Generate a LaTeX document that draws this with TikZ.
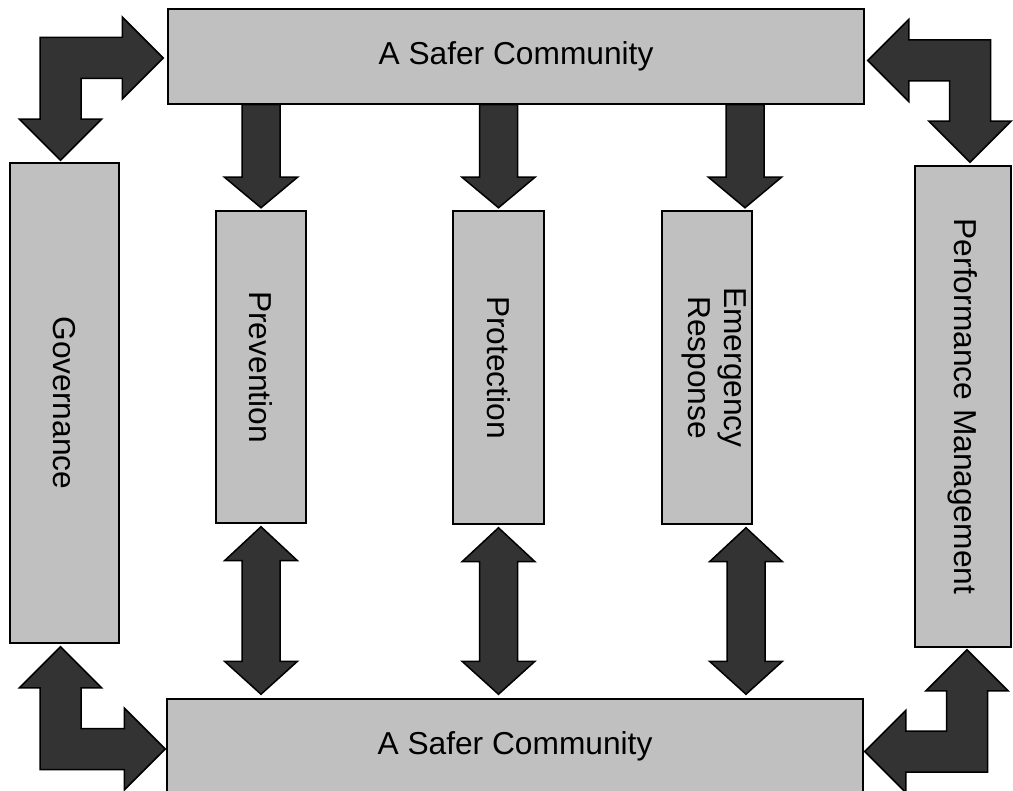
\documentclass[tikz,border=0pt]{standalone}
\usepackage{fontspec}
\setmainfont{Liberation Sans}
\usepackage{graphicx}
\usetikzlibrary{calc}
\definecolor{boxGrey}{HTML}{C0C0C0}
\definecolor{arrowDark}{HTML}{333333}
% straight arrow: from a box edge down to a box top
\newcommand{\downBlock}[2]{%
  \draw[blockArrow] let \p1=(#1), \p2=(#2) in
    (\x2-19pt,\y1) -- (\x2+19pt,\y1) -- (\x2+19pt,\y2+33pt)
    -- (\x2+36.5pt,\y2+33pt) -- (\x2,\y2+2.5pt) -- (\x2-36.5pt,\y2+33pt)
    -- (\x2-19pt,\y2+33pt) -- cycle;}
% two-headed arrow between two boxes
\newcommand{\bothBlock}[2]{%
  \draw[blockArrow] let \p1=(#1), \p2=(#2) in
    (\x1,\y1-3pt) -- (\x1+36.5pt,\y1-37pt) -- (\x1+19pt,\y1-37pt)
    -- (\x1+19pt,\y2+37pt) -- (\x1+36.5pt,\y2+37pt) -- (\x1,\y2+4pt)
    -- (\x1-36.5pt,\y2+37pt) -- (\x1-19pt,\y2+37pt) -- (\x1-19pt,\y1-37pt)
    -- (\x1-36.5pt,\y1-37pt) -- cycle;}
% bent arrow: #1 vertical tip, #2 horizontal tip, #3/#4 directions
\newcommand{\cornerBlock}[4]{%
  \draw[blockArrow] let \p1=(#1), \p2=(#2) in
    (\x2,\y2) -- ({\x2-(#3)*41pt},{\y2+(#4)*41pt})
    -- ({\x2-(#3)*41pt},{\y2+(#4)*20.5pt})
    -- ({\x1+(#3)*20.5pt},{\y2+(#4)*20.5pt})
    -- ({\x1+(#3)*20.5pt},{\y1-(#4)*41pt})
    -- ({\x1+(#3)*41pt},{\y1-(#4)*41pt}) -- (\x1,\y1)
    -- ({\x1-(#3)*41pt},{\y1-(#4)*41pt})
    -- ({\x1-(#3)*20.5pt},{\y1-(#4)*41pt})
    -- ({\x1-(#3)*20.5pt},{\y2-(#4)*20.5pt})
    -- ({\x2-(#3)*41pt},{\y2-(#4)*20.5pt})
    -- ({\x2-(#3)*41pt},{\y2-(#4)*41pt}) -- cycle;}

\begin{document}
\begin{tikzpicture}[x=1pt,y=-1pt,
  box/.style={draw=black,line width=1.5pt,fill=boxGrey,inner sep=0pt,
    font=\fontsize{31.7pt}{36pt}\selectfont},
  blockArrow/.style={draw=black,line width=1.5pt,fill=arrowDark,line join=miter}]
\clip (0,0) rectangle (1013,791);
\node[box,minimum width=696pt,minimum height=95pt] (top) at (516,56.5) {A Safer Community};
\node[box,minimum width=696pt,minimum height=95pt] (bot) at (515,746.5) {A Safer Community};
\node[box,minimum width=109pt,minimum height=480pt] (gov) at (64.5,403) {\rotatebox{-90}{Governance}};
\node[box,minimum width=90pt,minimum height=312pt] (prev) at (261,367) {\rotatebox{-90}{Prevention}};
\node[box,minimum width=91pt,minimum height=313pt] (prot) at (498.5,367.5) {\rotatebox{-90}{Protection}};
\node[box,minimum width=90pt,minimum height=313pt] (emer) at (707,367.5)
  {\makebox[0pt]{\hspace{14pt}\rotatebox{-90}{\begin{tabular}{@{}c@{}}Emergency\\Response\end{tabular}}}};
\node[box,minimum width=96pt,minimum height=481pt] (perf) at (963,406.5) {\rotatebox{-90}{Performance Management}};

\downBlock{top.south}{prev.north}
\downBlock{top.south}{prot.north}
\downBlock{top.south}{[xshift=38pt]emer.north}
\bothBlock{prev.south}{bot.north}
\bothBlock{prot.south}{bot.north}
\bothBlock{[xshift=39pt]emer.south}{bot.north}

\cornerBlock{[xshift=-4pt,yshift=2pt]gov.north}{[xshift=-4pt,yshift=-1.5pt]top.west}{1}{-1}
\cornerBlock{[xshift=7pt,yshift=3pt]perf.north}{[xshift=3pt,yshift=-4pt]top.east}{-1}{-1}
\cornerBlock{[xshift=-4pt,yshift=-3pt]gov.south}{[xshift=-1pt,yshift=-2.5pt]bot.west}{1}{1}
\cornerBlock{[xshift=4pt,yshift=-2pt]perf.south}{[xshift=1pt,yshift=-5pt]bot.east}{-1}{1}
\end{tikzpicture}
\end{document}
